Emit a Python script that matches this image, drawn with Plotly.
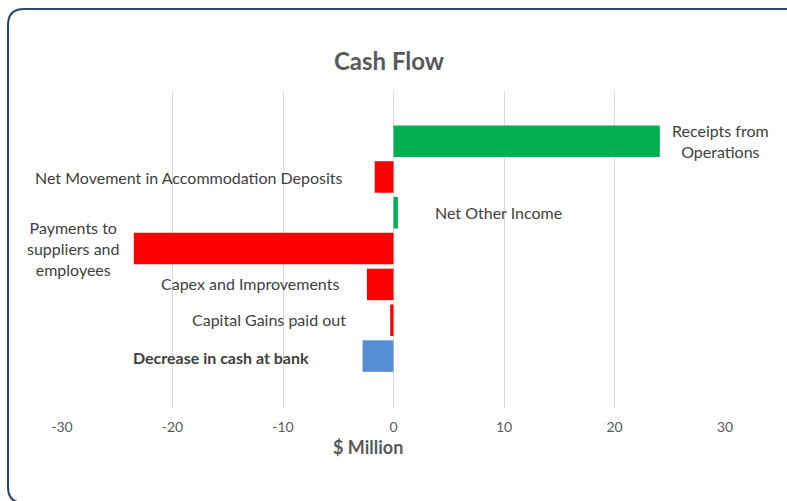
import plotly.graph_objects as go

categories = ["Receipts from<br>Operations",
              "Net Movement in Accommodation Deposits",
              "Net Other Income",
              "Payments to<br>suppliers and<br>employees",
              "Capex and Improvements",
              "Capital Gains paid out",
              "<b>Decrease in cash at bank</b>"]
values = [24.1, -1.7, 0.4, -23.5, -2.4, -0.3, -2.8]
colors = ["#00B050", "#FF0000", "#00B050", "#FF0000", "#FF0000", "#FF0000", "#558ED5"]
label_x = [29.6, -18.5, 9.5, -29.0, -13.0, -11.3, -15.6]
label_dy = [0, 1, 0, 0, -1, -1, 1]
tick_vals = [-30, -20, -10, 0, 10, 20, 30]
tick_text = ["-30", "-20", "-10", "0", "10", "20", "30"]

W, H = 787, 501
L, R, T, B = 62, 62, 91, 93
pw, ph = W - L - R, H - T - B

def px(x):
    return (x - L) / pw

def py(y):
    return (H - B - y) / ph

ypos = list(range(len(values)))

fig = go.Figure()
fig.add_trace(go.Bar(
    x=values, y=ypos, orientation="h",
    marker=dict(color=colors, line=dict(width=0)),
    width=0.88, hoverinfo="x",
))

for i, (txt, lx) in enumerate(zip(categories, label_x)):
    fig.add_annotation(x=lx, y=i, text=txt, showarrow=False,
                       xanchor="center", yanchor="middle",
                       yshift=-label_dy[i],
                       font=dict(family="Lato", size=16, color="#404040"))

# axis title (sits slightly left of centre, as in the reference)
fig.add_annotation(x=px(368), y=py(447), xref="paper", yref="paper",
                   text="<b>$ Million</b>", showarrow=False,
                   xanchor="center", yanchor="middle",
                   font=dict(family="Lato", size=18, color="#595959"))

# rounded border (right and bottom edges run off the canvas)
r = 16
x0, y0, x1, y1 = 8, 9, 820, 503
path = (f"M {px(x0)},{py(y0 + r)} "
        f"Q {px(x0)},{py(y0)} {px(x0 + r)},{py(y0)} "
        f"L {px(x1 - r)},{py(y0)} Q {px(x1)},{py(y0)} {px(x1)},{py(y0 + r)} "
        f"L {px(x1)},{py(y1 - r)} Q {px(x1)},{py(y1)} {px(x1 - r)},{py(y1)} "
        f"L {px(x0 + r)},{py(y1)} Q {px(x0)},{py(y1)} {px(x0)},{py(y1 - r)} Z")
fig.add_shape(type="path", path=path, xref="paper", yref="paper",
              line=dict(color="#2A4470", width=2), layer="below")

fig.update_layout(
    width=W, height=H,
    margin=dict(l=L, r=R, t=T, b=B),
    paper_bgcolor="white", plot_bgcolor="white",
    showlegend=False,
    title=dict(text="<b>Cash Flow</b>", x=px(389), xref="paper", xanchor="center",
               y=1 - 62 / H, yanchor="middle",
               font=dict(family="Lato", size=24, color="#595959")),
    xaxis=dict(range=[-30, 30], tickvals=tick_vals, ticktext=tick_text,
               showgrid=True, gridcolor="#D9D9D9", gridwidth=1, zeroline=False,
               showline=False, ticks="outside", ticklen=6, tickcolor="rgba(0,0,0,0)",
               tickfont=dict(family="Lato", size=14, color="#595959")),
    yaxis=dict(range=[7.45, -1.4], showticklabels=False, showgrid=False,
               zeroline=False, showline=False, ticks=""),
)

fig.write_html("out.html")
